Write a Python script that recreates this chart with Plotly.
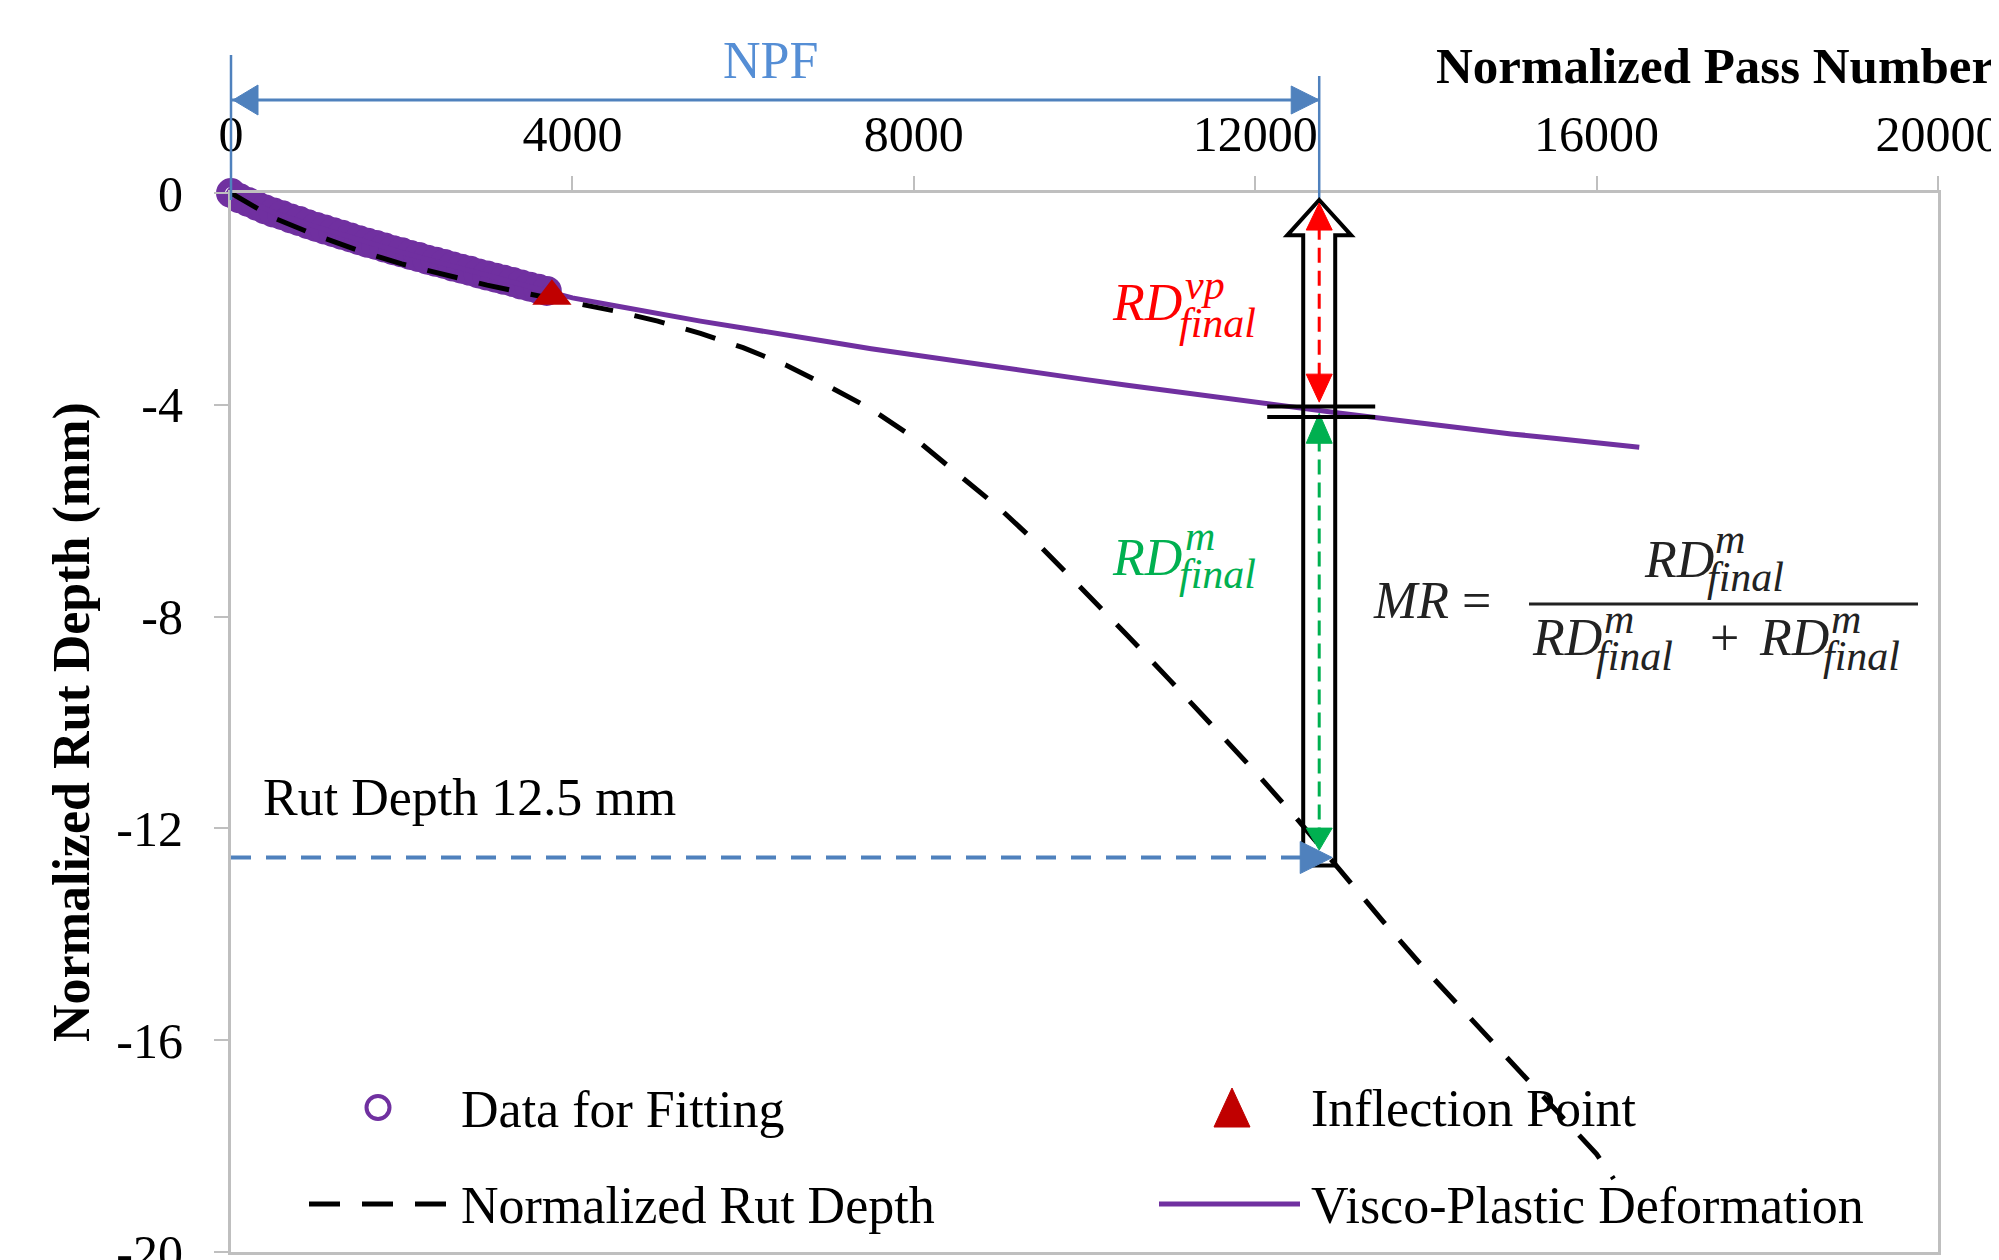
import plotly.graph_objects as go

# ---------------- data ----------------
fit_x = [0, 100, 200, 300, 400, 500, 600, 700, 800, 900, 1000, 1100, 1200, 1300, 1400,
         1500, 1600, 1700, 1800, 1900, 2000, 2100, 2200, 2300, 2400, 2500, 2600, 2700,
         2800, 2900, 3000, 3100, 3200, 3300, 3400, 3500, 3600, 3700]
fit_y = [0, -0.10, -0.17, -0.24, -0.31, -0.37, -0.42, -0.48, -0.53, -0.59, -0.64, -0.69,
         -0.74, -0.79, -0.84, -0.89, -0.94, -0.98, -1.03, -1.08, -1.12, -1.17, -1.21,
         -1.26, -1.30, -1.34, -1.39, -1.43, -1.47, -1.52, -1.56, -1.60, -1.64, -1.68,
         -1.73, -1.77, -1.81, -1.85]

inflection_x = [3760]
inflection_y = [-1.95]

rut_x = [0, 500, 1000, 1500, 2000, 2500, 3000, 3500, 4000, 4500, 5000, 5500, 6000, 6500,
         7000, 7500, 8000, 8500, 9000, 9500, 10000, 10500, 11000, 11500, 12000, 12500,
         13000, 13500, 14000, 14500, 15000, 15500, 16000, 16200]
rut_y = [0, -0.47, -0.80, -1.09, -1.34, -1.55, -1.74, -1.91, -2.07, -2.23, -2.42, -2.65,
         -2.92, -3.25, -3.65, -4.08, -4.62, -5.27, -5.95, -6.70, -7.52, -8.35, -9.20,
         -10.05, -10.93, -11.84, -12.80, -13.76, -14.68, -15.55, -16.42, -17.30, -18.15,
         -18.62]

vp_x = [0, 500, 1000, 1500, 2000, 2500, 3000, 3500, 4000, 4500, 5000, 5500, 6000, 6500,
        7000, 7500, 8000, 8500, 9000, 9500, 10000, 10500, 11000, 11500, 12000, 12500,
        13000, 13500, 14000, 14500, 15000, 15500, 16000, 16500]
vp_y = [0, -0.37, -0.64, -0.89, -1.12, -1.34, -1.56, -1.77, -1.98, -2.13, -2.28, -2.42,
        -2.55, -2.69, -2.81, -2.94, -3.06, -3.18, -3.30, -3.41, -3.52, -3.63, -3.74,
        -3.85, -3.95, -4.06, -4.16, -4.26, -4.36, -4.45, -4.55, -4.63, -4.72, -4.80]

x_ticks = [0, 4000, 8000, 12000, 16000, 20000]
x_tick_labels = ["0", "4000", "8000", "12000", "16000", "20000"]
y_ticks = [0, -4, -8, -12, -16, -20]
y_tick_labels = ["0", "-4", "-8", "-12", "-16", "-20"]

NPF = 12750          # normalized pass number at failure
RUT_LIMIT = -12.5    # rut depth criterion
VP_AT_NPF = -4.13    # visco-plastic rut depth at NPF

# ---------------- styling / layout helpers ----------------
W, H = 1999, 1260
PAGE_OFF = 8                      # default page body margin of the html page
PLOT_L, PLOT_T = 231, 193         # plot area position on the page
PW, PH = 1707, 1059
PLOT_B = PLOT_T + PH
ML = PLOT_L - PAGE_OFF
MT = PLOT_T - PAGE_OFF
MR_ = W - ML - PW
MB = H - MT - PH
SERIF = "Liberation Serif"
PURPLE = "#7030A0"
DARKRED = "#C00000"
RED = "#FF0000"
GREEN = "#00B050"
BLUE = "#4F81BD"
BLUE_TXT = "#558ED5"
AXIS = "#BFBFBF"
INK = "#222222"


def px(x):
    return (x - PLOT_L) / PW


def py(y):
    return (PLOT_B - y) / PH


def txt(x, y, s, size=52, color="black", xanchor="left", yanchor="middle", angle=0):
    return dict(x=px(x), y=py(y), xref="paper", yref="paper", text=s, showarrow=False,
                font=dict(family=SERIF, size=size, color=color),
                xanchor=xanchor, yanchor=yanchor, textangle=angle)


def head(xref, yref, xa, ya, pts, color):
    path = "M " + " L ".join(f"{a},{b}" for a, b in pts) + " Z"
    return dict(type="path", xref=xref, yref=yref, xsizemode="pixel", ysizemode="pixel",
                xanchor=xa, yanchor=ya, path=path, fillcolor=color,
                line=dict(color=color, width=1), layer="above")


fig = go.Figure()

fig.add_trace(go.Scatter(
    x=fit_x, y=fit_y, mode="markers", name="Data for Fitting", cliponaxis=False,
    marker=dict(symbol="circle-open", size=21, color=PURPLE, line=dict(width=9, color=PURPLE)),
    showlegend=False))
fig.add_trace(go.Scatter(
    x=vp_x, y=vp_y, mode="lines", name="Visco-Plastic Deformation",
    line=dict(color=PURPLE, width=5), showlegend=False))
fig.add_trace(go.Scatter(
    x=rut_x, y=rut_y, mode="lines", name="Normalized Rut Depth",
    line=dict(color="black", width=5, dash="31px,22px"), showlegend=False))
fig.add_trace(go.Scatter(
    x=inflection_x, y=inflection_y, mode="markers", name="Inflection Point", cliponaxis=False,
    marker=dict(symbol="triangle-up", size=34, color=DARKRED), showlegend=False))

shapes = []
npf_p = NPF / 20000.0

# --- NPF dimension arrow above the plot ---
shapes.append(dict(type="line", xref="paper", yref="paper", x0=0, x1=0, y0=py(200), y1=py(55),
                   line=dict(color=BLUE, width=2.5), layer="above"))
shapes.append(dict(type="line", xref="paper", yref="paper", x0=npf_p, x1=npf_p, y0=py(198), y1=py(76),
                   line=dict(color=BLUE, width=2.5), layer="above"))
shapes.append(dict(type="line", xref="paper", yref="paper", x0=0, x1=npf_p, y0=py(100), y1=py(100),
                   line=dict(color=BLUE, width=3), layer="above"))
shapes.append(head("paper", "paper", 0, py(100), [(2, 0), (27, 15), (27, -15)], BLUE))
shapes.append(head("paper", "paper", npf_p, py(100), [(0, 0), (-28, 14), (-28, -14)], BLUE))

# --- hollow block arrow at NPF ---
shapes.append(dict(type="path", xref="x", yref="y", xsizemode="pixel", xanchor=NPF,
                   path="M -16,-12.7 L -16,-0.8 L -32,-0.8 L 0,-0.13 L 32,-0.8 L 16,-0.8 L 16,-12.7 Z",
                   line=dict(color="black", width=4), fillcolor="rgba(0,0,0,0)", layer="above"))

# --- red dashed arrow (visco-plastic part) ---
shapes.append(dict(type="line", xref="x", yref="y", x0=NPF, x1=NPF, y0=-0.6, y1=-3.45,
                   line=dict(color=RED, width=3, dash="15px,8px"), layer="above"))
shapes.append(head("x", "y", NPF, -0.19, [(0, 0), (-13, -27), (13, -27)], RED))
shapes.append(head("x", "y", NPF, -3.95, [(0, 0), (-13, 28), (13, 28)], RED))

# --- green dashed arrow (permanent part) ---
shapes.append(dict(type="line", xref="x", yref="y", x0=NPF, x1=NPF, y0=-4.6, y1=-12.1,
                   line=dict(color=GREEN, width=3, dash="15px,8px"), layer="above"))
shapes.append(head("x", "y", NPF, -4.16, [(0, 0), (-13, -30), (13, -30)], GREEN))
shapes.append(head("x", "y", NPF, -12.41, [(0, 0), (-13, 22), (13, 22)], GREEN))

# --- double bar marking visco-plastic depth at NPF ---
for dy in (0.10, -0.10):
    shapes.append(dict(type="line", xref="x", yref="y", xsizemode="pixel", xanchor=NPF,
                       x0=-52, x1=56, y0=VP_AT_NPF + dy, y1=VP_AT_NPF + dy,
                       line=dict(color="black", width=4), layer="above"))

# --- blue dashed rut-limit arrow ---
shapes.append(dict(type="line", xref="x", yref="y", x0=0, x1=NPF, y0=RUT_LIMIT - 0.05, y1=RUT_LIMIT - 0.05,
                   line=dict(color=BLUE, width=4, dash="20px,15px"), layer="above"))
shapes.append(head("x", "y", NPF, RUT_LIMIT - 0.05, [(13, 0), (-19, 16), (-19, -16)], BLUE))

# --- fraction bar of the MR formula ---
shapes.append(dict(type="line", xref="paper", yref="paper", x0=px(1529), x1=px(1918),
                   y0=py(604), y1=py(604), line=dict(color=INK, width=3), layer="above"))

# --- legend symbols ---
shapes.append(dict(type="circle", xref="paper", yref="paper", x0=px(366.5), x1=px(389.5),
                   y0=py(1119), y1=py(1096), line=dict(color=PURPLE, width=4), layer="above"))
shapes.append(dict(type="line", xref="paper", yref="paper", x0=px(309), x1=px(446),
                   y0=py(1204), y1=py(1204), line=dict(color="black", width=5, dash="31px,22px"),
                   layer="above"))
shapes.append(head("paper", "paper", px(1232), py(1127), [(-18, 0), (18, 0), (0, 39)], DARKRED))
shapes.append(dict(type="line", xref="paper", yref="paper", x0=px(1159), x1=px(1300),
                   y0=py(1204), y1=py(1204), line=dict(color=PURPLE, width=5), layer="above"))

annotations = [
    txt(770, 60.5, "NPF", color=BLUE_TXT, xanchor="center"),
    txt(1434, 65.5, "<b>Normalized Pass Number</b>", size=51),
    txt(72, 722, "<b>Normalized Rut Depth (mm)</b>", xanchor="center", angle=-90),
    txt(261, 797.5, "Rut Depth 12.5 mm"),
    # red RD^vp_final
    txt(1110, 302.5, "<i>RD</i>", color=RED),
    txt(1183, 285, "<i>vp</i>", size=42, color=RED),
    txt(1177, 323, "<i>final</i>", size=42, color=RED),
    # green RD^m_final
    txt(1110, 557.5, "<i>RD</i>", color=GREEN),
    txt(1183, 536, "<i>m</i>", size=42, color=GREEN),
    txt(1177, 574, "<i>final</i>", size=42, color=GREEN),
    # MR formula
    txt(1371, 600.5, "<i>MR</i> =", color=INK),
    txt(1642, 559.5, "<i>RD</i>", color=INK),
    txt(1713, 539, "<i>m</i>", size=42, color=INK),
    txt(1705, 577, "<i>final</i>", size=42, color=INK),
    txt(1530, 637.5, "<i>RD</i>", color=INK),
    txt(1602, 619, "<i>m</i>", size=42, color=INK),
    txt(1594, 656, "<i>final</i>", size=42, color=INK),
    txt(1724, 637.5, "+", color=INK, xanchor="center"),
    txt(1757, 637.5, "<i>RD</i>", color=INK),
    txt(1829, 619, "<i>m</i>", size=42, color=INK),
    txt(1821, 656, "<i>final</i>", size=42, color=INK),
    # legend texts
    txt(459, 1109.5, "Data for Fitting"),
    txt(1309, 1108.5, "Inflection Point"),
    txt(459, 1205.5, "Normalized Rut Depth"),
    txt(1309, 1205.5, "Visco-Plastic Deformation"),
]

fig.update_layout(
    width=W, height=H,
    margin=dict(l=ML, r=MR_, t=MT, b=MB, autoexpand=False),
    paper_bgcolor="white", plot_bgcolor="white",
    showlegend=False,
    shapes=shapes, annotations=annotations,
    xaxis=dict(side="top", range=[0, 20000], tickvals=x_ticks, ticktext=x_tick_labels,
               ticks="outside", ticklen=14, tickwidth=2, tickcolor=AXIS,
               showline=True, linecolor=AXIS, linewidth=3, mirror=True,
               showgrid=False, zeroline=False, automargin=False, ticklabelstandoff=5,
               ticklabeloverflow="allow",
               tickfont=dict(family=SERIF, size=50, color="black")),
    yaxis=dict(range=[-20, 0], tickvals=y_ticks, ticktext=y_tick_labels,
               ticks="outside", ticklen=14, tickwidth=2, tickcolor=AXIS,
               showline=True, linecolor=AXIS, linewidth=3, mirror=True,
               showgrid=False, zeroline=False, automargin=False, ticklabelstandoff=21,
               ticklabeloverflow="allow",
               tickfont=dict(family=SERIF, size=50, color="black")),
)

fig.write_html("out.html")
